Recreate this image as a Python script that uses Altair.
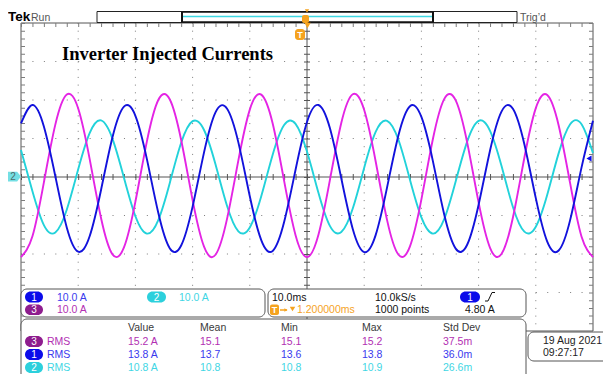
import altair as alt
import pandas as pd

# ---------------- data ----------------
time_ms = [-50, -48, -46, -44, -42, -40, -38, -36, -34, -32, -30, -28, -26, -24, -22, -20,
           -18, -16, -14, -12, -10, -8, -6, -4, -2, 0, 2, 4, 6, 8, 10, 12, 14, 16, 18, 20,
           22, 24, 26, 28, 30, 32, 34, 36, 38, 40, 42, 44, 46, 48, 50]
ch1_A = [13.9, 18.7, 13.1, 0.2, -13.1, -19.4, -15.4, -3.3, 10.4, 18.3, 15.9, 4.7, -9.3,
         -18.5, -17.8, -7.7, 6.4, 16.8, 17.8, 9.0, -5.0, -16.4, -19.2, -11.7, 1.9, 14.3,
         18.7, 12.7, -0.4, -13.5, -19.5, -15.1, -2.7, 10.9, 18.4, 15.6, 4.2, -9.8, -18.6,
         -17.6, -7.2, 6.9, 17.0, 17.7, 8.5, -5.5, -16.8, -19.1, -11.2, 2.5, 14.6]
ch2_A = [7.0, -3.7, -12.5, -14.4, -8.5, 2.0, 11.4, 14.7, 9.9, -0.2, -10.2, -14.7, -11.2,
         -1.6, 8.9, 14.5, 12.2, 3.3, -7.4, -14.1, -13.1, -5.0, 5.8, 13.5, 13.8, 6.6, -4.1,
         -12.7, -14.3, -8.2, 2.4, 11.7, 14.6, 9.6, -0.7, -10.5, -14.7, -10.9, -1.1, 9.2,
         14.6, 12.0, 2.9, -7.8, -14.2, -12.9, -4.6, 6.2, 13.7, 13.7, 6.2]
ch3_A = [-20.8, -15.4, -1.4, 13.6, 21.4, 17.8, 4.7, -10.7, -20.1, -18.3, -6.4, 9.2, 20.0,
         20.2, 9.6, -6.0, -18.1, -20.2, -11.0, 4.3, 17.5, 21.4, 13.9, -1.0, -15.1, -20.8,
         -15.0, -0.8, 14.1, 21.5, 17.4, 4.1, -11.2, -20.2, -18.0, -5.8, 9.8, 20.3, 19.9,
         9.0, -6.6, -18.4, -20.0, -10.5, 5.0, 17.9, 21.3, 13.4, -1.6, -15.5, -20.8]

x_grid_ms = [-40, -30, -20, -10, 10, 20, 30, 40]
y_grid_A = [-30, -20, -10, 10, 20, 30]
center_ms = [0]
center_A = [0]
trig_level_A = [4.80]

title_text = "Inverter Injected Currents"
top_left = ["Tek", "Run"]
top_right = "Trig\u2019d"
scale_labels = {"1": "10.0 A", "2": "10.0 A", "3": "10.0 A"}
timebase_labels = ["10.0ms", "10.0kS/s", "1.200000ms", "1000 points", "4.80 A"]
meas_header = ["Value", "Mean", "Min", "Max", "Std Dev"]
meas_channels = ["3", "1", "2"]
meas_label = "RMS"
meas_values = [["15.2 A", "15.1", "15.1", "15.2", "37.5m"],
               ["13.8 A", "13.7", "13.6", "13.8", "36.0m"],
               ["10.8 A", "10.8", "10.8", "10.9", "26.6m"]]
date_lines = ["19 Aug 2021", "09:27:17"]

# ---------------- styling ----------------
BLUE, CYAN, MAG = "#1212dc", "#22d2da", "#e424e4"
PILL = {"1": "#0b0bea", "2": "#2cd0dc", "3": "#8e1d8e"}
TXT = {"1": "#3a3aee", "2": "#3fd6e4", "3": "#b22fb2"}
ORANGE = "#f5a31f"
GRID = "#7c7c7c"
FRAME = "#555555"
SANS = "Liberation Sans"

W, H = 572, 308          # graticule (plot area)
X0, Y0 = 21, 23          # page position of graticule top-left

xs = alt.Scale(domain=[-50, 50], nice=False, zero=False)
ys = alt.Scale(domain=[-40, 40], nice=False, zero=False)
one = pd.DataFrame({"k": [0]})


def px(x):
    return x - X0


def py(y):
    return y - Y0


def text(x, y, s, size=10.5, color="#111111", weight="normal", font=SANS,
         align="left", baseline="middle"):
    return alt.Chart(one).mark_text(
        text=s, align=align, baseline=baseline, fontSize=size, font=font,
        fontWeight=weight, color=color
    ).encode(x=alt.value(px(x)), y=alt.value(py(y)))


def box(x1, y1, x2, y2, fill="white", stroke=FRAME, sw=1, r=0):
    kw = dict(cornerRadius=r)
    if fill is None:
        kw["fillOpacity"] = 0
        kw["fill"] = "white"
    else:
        kw["fill"] = fill
    if stroke is not None:
        kw["stroke"] = stroke
        kw["strokeWidth"] = sw
    return alt.Chart(one).mark_rect(**kw).encode(
        x=alt.value(px(x1)), x2=alt.value(px(x2)),
        y=alt.value(py(y1)), y2=alt.value(py(y2)))


def seg(x1, y1, x2, y2, color="#222222", sw=1, dash=None):
    kw = dict(color=color, strokeWidth=sw)
    if dash is not None:
        kw["strokeDash"] = dash
    return alt.Chart(one).mark_rule(**kw).encode(
        x=alt.value(px(x1)), x2=alt.value(px(x2)),
        y=alt.value(py(y1)), y2=alt.value(py(y2)))


def pt(x, y, shape, size, color):
    return alt.Chart(one).mark_point(
        shape=shape, size=size, filled=True, color=color, opacity=1, strokeWidth=0
    ).encode(x=alt.value(px(x)), y=alt.value(py(y)))


def pill(x1, y1, x2, y2, ch):
    return [box(x1, y1, x2, y2, fill=PILL[ch], stroke=None, r=(y2 - y1) / 2),
            text((x1 + x2) / 2, (y1 + y2) / 2 + 0.5, ch, size=10, color="white",
                 align="center")]


layers = []

# ---- graticule ----
layers.append(alt.Chart(pd.DataFrame({"g": x_grid_ms})).mark_rule(
    color=GRID, strokeWidth=1, strokeDash=[1, 6.7]).encode(
    x=alt.X("g:Q", scale=xs, axis=None), y=alt.value(0), y2=alt.value(H)))
layers.append(alt.Chart(pd.DataFrame({"g": y_grid_A})).mark_rule(
    color=GRID, strokeWidth=1, strokeDash=[1, 10.44]).encode(
    y=alt.Y("g:Q", scale=ys, axis=None), x=alt.value(0), x2=alt.value(W)))
# centre cross + minor ticks
layers.append(alt.Chart(pd.DataFrame({"g": center_ms})).mark_rule(
    color=FRAME, strokeWidth=1).encode(
    x=alt.X("g:Q", scale=xs, axis=None), y=alt.value(0), y2=alt.value(H)))
layers.append(alt.Chart(pd.DataFrame({"g": center_ms})).mark_rule(
    color=FRAME, strokeWidth=6, strokeDash=[1, 6.7]).encode(
    x=alt.X("g:Q", scale=xs, axis=None), y=alt.value(0), y2=alt.value(H)))
layers.append(alt.Chart(pd.DataFrame({"g": center_A})).mark_rule(
    color=FRAME, strokeWidth=1).encode(
    y=alt.Y("g:Q", scale=ys, axis=None), x=alt.value(0), x2=alt.value(W)))
layers.append(alt.Chart(pd.DataFrame({"g": center_A})).mark_rule(
    color=FRAME, strokeWidth=6, strokeDash=[1, 10.44]).encode(
    y=alt.Y("g:Q", scale=ys, axis=None), x=alt.value(0), x2=alt.value(W)))
# frame and its ticks
layers.append(box(21, 23, 593, 331, fill=None, stroke=FRAME))
layers.append(seg(21, 25, 593, 25, color=GRID, sw=4, dash=[1, 10.44]))
layers.append(seg(23, 23, 23, 331, color=GRID, sw=4, dash=[1, 6.7]))
layers.append(seg(591, 23, 591, 331, color=GRID, sw=4, dash=[1, 6.7]))

# ---- traces ----
df = pd.DataFrame({"t": time_ms, "ch1": ch1_A, "ch2": ch2_A, "ch3": ch3_A})
for field, col in [("ch2", CYAN), ("ch3", MAG), ("ch1", BLUE)]:
    layers.append(alt.Chart(df).mark_line(
        color=col, strokeWidth=1.9, interpolate="natural").encode(
        x=alt.X("t:Q", scale=xs, axis=None),
        y=alt.Y(f"{field}:Q", scale=ys, axis=None)))

# trigger-level arrow (ch1) on right edge
layers.append(alt.Chart(pd.DataFrame({"lvl": trig_level_A})).mark_point(
    shape="triangle-left", size=35, filled=True, color=PILL["1"], opacity=1,
    strokeWidth=0).encode(y=alt.Y("lvl:Q", scale=ys, axis=None),
                          x=alt.value(px(589))))

# ch2 ground marker on left
arrow_path = "M -1 -0.75 L 0.4 -0.75 L 1 0 L 0.4 0.75 L -1 0.75 Z"
layers.append(pt(14.5, 176.5, arrow_path, 169, "#74dfe4"))
layers.append(text(13, 177, "2", size=10, color="#4d6b6b", align="center"))

# ---- title ----
layers.append(text(62, 60, title_text, size=18.5, font="Liberation Serif",
                   weight="bold", color="#000000", baseline="alphabetic"))

# ---- top status bar ----
layers.append(text(8, 17, top_left[0], size=13.5, weight="bold", color="#000000"))
layers.append(text(31, 17.5, top_left[1], size=10.5, color="#555555"))
layers.append(text(520, 17.5, top_right, size=10.5, color="#555555"))
layers.append(box(97, 11.5, 517, 22.5, fill="white", stroke="#222222"))
layers.append(seg(182, 11.5, 182, 22.5, color="#111111", sw=2))
layers.append(seg(433, 11.5, 433, 22.5, color="#111111", sw=2))
layers.append(seg(183, 12, 432, 12, color="#111111", sw=1.5))
layers.append(seg(183, 22, 432, 22, color="#111111", sw=1.5))
layers.append(seg(183, 16.5, 432, 16.5, color="#3fd8e2", sw=1.5))
layers.append(pt(307, 11, "triangle-down", 18, ORANGE))
layers.append(box(302, 15, 309, 23, fill=ORANGE, stroke=None, r=2))
layers.append(pt(307.5, 25.5, "triangle-down", 40, ORANGE))
layers.append(box(295, 29, 305, 40, fill=ORANGE, stroke=None, r=3))
layers.append(text(300, 34.5, "T", size=9, weight="bold", color="white",
                   align="center"))

# ---- readout box 1 (channel scales) ----
layers.append(box(21, 289, 265, 317, fill="white", stroke=FRAME, r=6))
layers += pill(25, 291.5, 43, 302.5, "1")
layers.append(text(57, 297.5, scale_labels["1"], color=TXT["1"]))
layers += pill(147, 291.5, 166, 302.5, "2")
layers.append(text(179, 297.5, scale_labels["2"], color=TXT["2"]))
layers += pill(25, 304.5, 43, 315, "3")
layers.append(text(57, 310, scale_labels["3"], color=TXT["3"]))

# ---- readout box 2 (timebase / trigger) ----
layers.append(box(268, 289, 526, 317, fill="white", stroke=FRAME, r=6))
layers.append(text(272, 297.5, timebase_labels[0]))
layers.append(text(375, 297.5, timebase_labels[1]))
layers += pill(460, 291.5, 480, 302.5, "1")
layers.append(seg(485, 301, 488, 301, color="#111111"))
layers.append(seg(488, 301, 492, 292.5, color="#111111"))
layers.append(seg(492, 292.5, 495, 292.5, color="#111111"))
layers.append(box(270, 304.5, 279, 315, fill=ORANGE, stroke=None, r=2))
layers.append(text(274.5, 310, "T", size=9, weight="bold", color="white",
                   align="center"))
layers.append(seg(280, 310, 287, 310, color=ORANGE, sw=1.5))
layers.append(pt(286, 310, "triangle-right", 14, ORANGE))
layers.append(pt(292.5, 309, "triangle-down", 30, ORANGE))
layers.append(text(297, 310, timebase_labels[2], color=ORANGE))
layers.append(text(375, 310, timebase_labels[3]))
layers.append(text(465, 310, timebase_labels[4]))

# ---- measurement table ----
layers.append(box(21, 319, 526, 390, fill="white", stroke=FRAME, r=6))
col_x = [128, 200, 281, 362, 443]
for cx, h in zip(col_x, meas_header):
    layers.append(text(cx, 327.5, h, color="#3a3a3a"))
row_y = [341.5, 354.5, 367.5]
for ch, vals, ry in zip(meas_channels, meas_values, row_y):
    layers += pill(25, ry - 5.5, 43, ry + 5.5, ch)
    layers.append(text(47, ry, meas_label, color=TXT[ch]))
    for cx, v in zip(col_x, vals):
        layers.append(text(cx, ry, v, color=TXT[ch]))

# ---- date box ----
layers.append(box(528, 332, 618, 361, fill="white", stroke=FRAME, r=6))
layers.append(text(543, 340.5, date_lines[0], color="#222222"))
layers.append(text(543, 353, date_lines[1], color="#222222"))

# whole picture: 595 wide; height runs to the bottom of the window
chart = alt.layer(*layers).properties(
    width=W, height=H,
    padding={"left": 13, "top": 15, "right": 10, "bottom": 43},
    autosize=alt.AutoSizeParams(type="none"),
    background="white",
).configure_view(stroke=None)

chart.save("out.html", embed_options={"renderer": "svg", "actions": False})
